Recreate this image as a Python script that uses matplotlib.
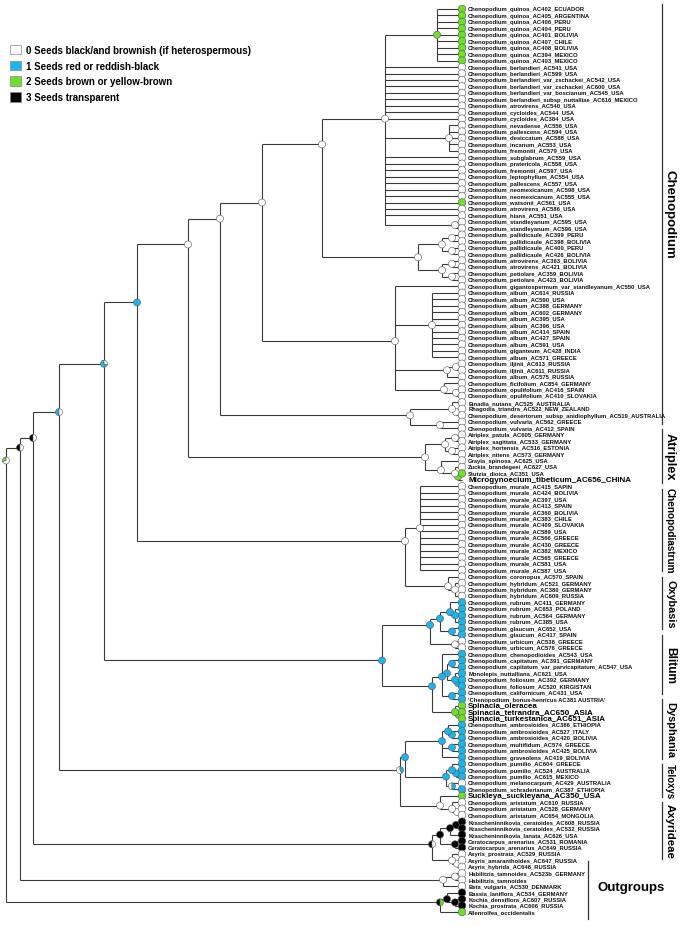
import re
import numpy as np
import matplotlib
matplotlib.use('Agg')
import matplotlib.pyplot as plt
import matplotlib.transforms as mtransforms
from matplotlib.patches import Wedge, Patch

plt.rcParams['font.family'] = ['Liberation Sans', 'DejaVu Sans']

# Tip labels, top to bottom
tip_names = [
    'Chenopodium_quinoa_AC402_ECUADOR', 'Chenopodium_quinoa_AC405_ARGENTINA', 'Chenopodium_quinoa_AC406_PERU',
    'Chenopodium_quinoa_AC404_PERU', 'Chenopodium_quinoa_AC401_BOLIVIA', 'Chenopodium_quinoa_AC407_CHILE',
    'Chenopodium_quinoa_AC408_BOLIVIA', 'Chenopodium_quinoa_AC394_MEXICO', 'Chenopodium_quinoa_AC403_MEXICO',
    'Chenopodium_berlandieri_AC541_USA', 'Chenopodium_berlandieri_AC599_USA',
    'Chenopodium_berlandieri_var_zschackei_AC542_USA', 'Chenopodium_berlandieri_var_zschackei_AC600_USA',
    'Chenopodium_berlandieri_var_boscianum_AC545_USA', 'Chenopodium_berlandieri_subsp_nuttalliae_AC616_MEXICO',
    'Chenopodium_atrovirens_AC540_USA', 'Chenopodium_cycloides_AC544_USA', 'Chenopodium_cycloides_AC384_USA',
    'Chenopodium_nevadense_AC556_USA', 'Chenopodium_pallescens_AC594_USA', 'Chenopodium_desiccatum_AC588_USA',
    'Chenopodium_incanum_AC553_USA', 'Chenopodium_fremontii_AC579_USA', 'Chenopodium_subglabrum_AC559_USA',
    'Chenopodium_pratericola_AC558_USA', 'Chenopodium_fremontii_AC597_USA', 'Chenopodium_leptophyllum_AC554_USA',
    'Chenopodium_pallescens_AC557_USA', 'Chenopodium_neomexicanum_AC598_USA', 'Chenopodium_neomexicanum_AC555_USA',
    'Chenopodium_watsonii_AC561_USA', 'Chenopodium_atrovirens_AC586_USA', 'Chenopodium_hians_AC551_USA',
    'Chenopodium_standleyanum_AC595_USA', 'Chenopodium_standleyanum_AC596_USA',
    'Chenopodium_pallidicaule_AC399_PERU', 'Chenopodium_pallidicaule_AC398_BOLIVIA',
    'Chenopodium_pallidicaule_AC400_PERU', 'Chenopodium_pallidicaule_AC426_BOLIVIA',
    'Chenopodium_atrovirens_AC363_BOLIVIA', 'Chenopodium_atrovirens_AC421_BOLIVIA',
    'Chenopodium_petiolare_AC359_BOLIVIA', 'Chenopodium_petiolare_AC423_BOLIVIA',
    'Chenopodium_gigantospermum_var_standleyanum_AC550_USA', 'Chenopodium_album_AC614_RUSSIA',
    'Chenopodium_album_AC590_USA', 'Chenopodium_album_AC388_GERMANY', 'Chenopodium_album_AC602_GERMANY',
    'Chenopodium_album_AC395_USA', 'Chenopodium_album_AC396_USA', 'Chenopodium_album_AC414_SPAIN',
    'Chenopodium_album_AC427_SPAIN', 'Chenopodium_album_AC591_USA', 'Chenopodium_giganteum_AC428_INDIA',
    'Chenopodium_album_AC571_GREECE', 'Chenopodium_iljinii_AC613_RUSSIA', 'Chenopodium_iljinii_AC611_RUSSIA',
    'Chenopodium_album_AC575_RUSSIA', 'Chenopodium_ficifolium_AC854_GERMANY', 'Chenopodium_opulifolium_AC416_SPAIN',
    'Chenopodium_opulifolium_AC410_SLOVAKIA', 'Einadia_nutans_AC525_AUSTRALIA', 'Rhagodia_triandra_AC522_NEW_ZEALAND',
    'Chenopodium_desertorum_subsp_anidiophyllum_AC519_AUSTRALIA', 'Chenopodium_vulvaria_AC562_GREECE',
    'Chenopodium_vulvaria_AC412_SPAIN', 'Atriplex_patula_AC605_GERMANY', 'Atriplex_sagittata_AC533_GERMANY',
    'Atriplex_hortensis_AC516_ESTONIA', 'Atriplex_nitens_AC573_GERMANY', 'Grayia_spinosa_AC625_USA',
    'Zuckia_brandegeei_AC627_USA', 'Stutzia_dioica_AC351_USA', 'Microgynoecium_tibeticum_AC656_CHINA',
    'Chenopodium_murale_AC415_SAPIN', 'Chenopodium_murale_AC424_BOLIVIA', 'Chenopodium_murale_AC397_USA',
    'Chenopodium_murale_AC413_SPAIN', 'Chenopodium_murale_AC360_BOLIVIA', 'Chenopodium_murale_AC383_CHILE',
    'Chenopodium_murale_AC409_SLOVAKIA', 'Chenopodium_murale_AC589_USA', 'Chenopodium_murale_AC566_GREECE',
    'Chenopodium_murale_AC430_GREECE', 'Chenopodium_murale_AC382_MEXICO', 'Chenopodium_murale_AC565_GREECE',
    'Chenopodium_murale_AC581_USA', 'Chenopodium_murale_AC587_USA', 'Chenopodium_coronopus_AC570_SPAIN',
    'Chenopodium_hybridum_AC521_GERMANY', 'Chenopodium_hybridum_AC380_GERMANY', 'Chenopodium_hybridum_AC609_RUSSIA',
    'Chenopodium_rubrum_AC411_GERMANY', 'Chenopodium_rubrum_AC653_POLAND', 'Chenopodium_rubrum_AC564_GERMANY',
    'Chenopodium_rubrum_AC385_USA', 'Chenopodium_glaucum_AC652_USA', 'Chenopodium_glaucum_AC417_SPAIN',
    'Chenopodium_urbicum_AC536_GREECE', 'Chenopodium_urbicum_AC576_GREECE', 'Chenopodium_chenopodioides_AC543_USA',
    'Chenopodium_capitatum_AC391_GERMANY', 'Chenopodium_capitatum_var_parvicapitatum_AC547_USA',
    'Monolepis_nuttalliana_AC621_USA', 'Chenopodium_foliosum_AC392_GERMANY', 'Chenopodium_foliosum_AC520_KIRGISTAN',
    'Chenopodium_californicum_AC431_USA', "'Chenopodium_bonus-henricus AC381 AUSTRIA'", 'Spinacia_oleracea',
    'Spinacia_tetrandra_AC650_ASIA', 'Spinacia_turkestanica_AC651_ASIA', 'Chenopodium_ambrosioides_AC386_ETHIOPIA',
    'Chenopodium_ambrosioides_AC527_ITALY', 'Chenopodium_ambrosioides_AC420_BOLIVIA',
    'Chenopodium_multifidum_AC574_GREECE', 'Chenopodium_ambrosioides_AC425_BOLIVIA',
    'Chenopodium_graveolens_AC419_BOLIVIA', 'Chenopodium_pumilio_AC604_GREECE', 'Chenopodium_pumilio_AC524_AUSTRALIA',
    'Chenopodium_pumilio_AC615_MEXICO', 'Chenopodium_melanocarpum_AC429_AUSTRALIA',
    'Chenopodium_schraderianum_AC387_ETHIOPIA', 'Suckleya_suckleyana_AC350_USA', 'Chenopodium_aristatum_AC610_RUSSIA',
    'Chenopodium_aristatum_AC528_GERMANY', 'Chenopodium_aristatum_AC654_MONGOLIA',
    'Krascheninnikovia_ceratoides_AC608_RUSSIA', 'Krascheninnikovia_ceratoides_AC532_RUSSIA',
    'Krascheninnikovia_lanata_AC626_USA', 'Ceratocarpus_arenarius_AC531_ROMANIA', 'Ceratocarpus_arenarius_AC649_RUSSIA',
    'Axyris_prostrata_AC529_RUSSIA', 'Axyris_amaranthoides_AC647_RUSSIA', 'Axyris_hybrida_AC648_RUSSIA',
    'Habilitzia_tamnoides_AC523b_GERMANY', 'Habilitzia_tamnoides', 'Beta_vulgaris_AC530_DENMARK',
    'Bassia_laniflora_AC534_GERMANY', 'Kochia_densiflora_AC607_RUSSIA', 'Kochia_prostrata_AC606_RUSSIA',
    'Allenrolfea_occidentalis',
]

# seed colour state of each tip (0 white, 1 blue, 2 green, 3 black, - no symbol)
tip_states = ('222222222' '000000000000000000000' '2' '00000000000000000000000000000000000000000'
              '2-' '000000000000000000' '111111' '00' '11111111' '222' '111111111' '0' '1' '2' '000'
              '33333' '000000' '333' '2')

big_tips = ['Microgynoecium_tibeticum_AC656_CHINA', 'Spinacia_oleracea', 'Spinacia_tetrandra_AC650_ASIA',
            'Spinacia_turkestanica_AC651_ASIA', 'Suckleya_suckleyana_AC350_USA']

state_colors = {'w': '#ffffff', 'b': '#1cb4ea', 'g': '#6ee02a', 'k': '#000000'}
tip_colors = {'0': 'w', '1': 'b', '2': 'g', '3': 'k'}

legend_labels = ['0 Seeds black/and brownish (if heterospermous)', '1 Seeds red or reddish-black',
                 '2 Seeds brown or yellow-brown', '3 Seeds transparent']

# clade bars: name, top and bottom in tip rows, label size
clade_names = ['Chenopodium', 'Atriplex', 'Chenopodiastrum', 'Oxybasis', 'Blitum', 'Dysphania', 'Teloxys',
               'Axyrideae']
clade_top = [-0.8, 65.1, 74.4, 88.1, 97.1, 107.0, 117.1, 122.9]
clade_bottom = [64.3, 73.5, 87.1, 96.1, 106.2, 116.3, 122.2, 131.8]
clade_size = [9.5, 9.2, 7.2, 7.8, 8.6, 7.9, 6.9, 8.2]
outgroup_top, outgroup_bottom = 132.1, 141.1

TIP_AGE = 462


def clade(age, pie, *kids):
    return {'x': age, 'pie': pie,
            'kids': [k if isinstance(k, dict) else {'tip': k - 1} for k in kids]}


# Tree: clade(node age, ancestral-state pie, children...) ; integers are tip numbers
chen_a = clade(385, 'w', clade(437, 'g', 1, 2, 3, 4, 5, 6, 7, 8, 9),
               10, 11, 12, 13, 14, 15, 16, 17, 18,
               clade(449, 'w', 19, 20, 21, 22, 23),
               24, 25, 26, 27, 28, 29, 30, 31, 32, 33, clade(455, 'w', 34, 35))
chen_pal = clade(418, 'w', clade(442, 'w', clade(452, 'w', 36, 37), clade(452, 'w', 38, 39)),
                 clade(442, 'w', clade(452, 'w', 40, 41), clade(452, 'w', 42, 43)))
chen_alb = clade(395, 'w', 44, clade(432, 'w', 45, 46, 47, 48, 49, 50, 51, 52, 53, 54, 55),
                 clade(447, 'w', clade(456, 'w', 56, 57), 58),
                 clade(444, 'w', 59, clade(456, 'w', 60, 61)))
chen_all = clade(220, 'w', clade(262, 'w', clade(322, 'w', chen_a, chen_pal), chen_alb),
                 clade(410, 'w', clade(452, 'w', 62, clade(456, 'w', 63, 64)), clade(440, 'w', 65, 66)))
atriplex = clade(425, 'w', clade(445, 'w', clade(455, 'w', 67, 68), clade(452, 'w', 69, 70)),
                 clade(441, 'w', 71, clade(455, 'w', 72, clade(458, 'g', 73, 74))))
chenopodiastrum = clade(405, 'w', clade(420, 'w', 75, 76, 77, 78, 79, 80, 81, 82, 83, 84, 85, 86, 87, 88),
                        clade(448, 'w', 89, clade(455, 'w', 90, 91, 92)))
oxybasis = clade(430, 'b', clade(440, 'b', clade(450, 'b', 93, clade(455, 'b', 94, 95, 96)),
                                  clade(452, 'b', 97, 98)),
                 clade(455, 'w', 99, 100))
blitum = clade(432, 'b', clade(442, 'b', 101, clade(447, 'b', clade(452, 'b', 102, 103),
                                                     clade(455, 'b', 104, clade(458, 'b', 105, 106))),
                               clade(452, 'b', 107, 108)),
               clade(455, 'g', 109, clade(459, 'g', 110, 111)))
dysphania = clade(400, 'w60b40',
                  clade(405, 'b', clade(442, 'b', clade(448, 'b', 112, clade(452, 'b', 113, 114)),
                                        clade(452, 'b', 115, 116), 117),
                        clade(446, 'b', clade(452, 'b', 118, clade(456, 'b', 119, 120)),
                              clade(452, 'w50b50', 121, 122))),
                  clade(440, 'w', 123, clade(452, 'w', 124, clade(457, 'w', 125, 126))))
axyrideae = clade(432, 'k50w50', clade(440, 'k', clade(450, 'k', clade(456, 'k', 127, 128), 129),
                                        clade(455, 'k', 130, 131)),
                  clade(452, 'w', 132, clade(457, 'w', 133, 134)))
tree = clade(6, 'g30w70',
             clade(20, 'k50w50',
                   clade(33, 'k50w50',
                         clade(59, 'b50w50',
                               clade(104, 'b70w30',
                                     clade(137, 'b', clade(188, 'w', chen_all, atriplex), chenopodiastrum),
                                     clade(382, 'b', oxybasis, blitum)),
                               dysphania),
                         axyrideae),
                   clade(443, 'w', clade(455, 'w', 135, 136), 137)),
             clade(440, 'k50g50', clade(447, 'k', 138, clade(455, 'k', 139, 140)), 141))


def layout(node):
    # node height = mean row of its descendant tips
    if 'tip' in node:
        node['y'] = node['tip']
        node['x'] = TIP_AGE
        return [node['tip']]
    rows = []
    for k in node['kids']:
        rows += layout(k)
    node['y'] = float(np.mean(rows))
    return rows


def draw_pie(ax, x, y, pie, r):
    parts = re.findall(r'([wbgk])(\d*)', pie)
    fracs = [float(p) / 100 if p else 1.0 for _, p in parts]
    tr = mtransforms.Affine2D().scale(r) + mtransforms.ScaledTranslation(x, y, ax.transData)
    start = 90.0
    for (c, _), f in zip(parts, fracs):
        ax.add_patch(Wedge((0, 0), 1, start, start + 360 * f, facecolor=state_colors[c],
                           edgecolor='#555555', lw=0.4, transform=tr, zorder=4))
        start += 360 * f


def draw(ax, node):
    if 'tip' in node:
        return
    ys = [k['y'] for k in node['kids']]
    ax.plot([node['x'], node['x']], [min(ys), max(ys)], color='#3a3a3a', lw=0.8, zorder=1,
            solid_capstyle='butt')
    for k in node['kids']:
        ax.plot([node['x'], k['x']], [k['y'], k['y']], color='#3a3a3a', lw=0.8, zorder=1,
                solid_capstyle='butt')
        draw(ax, k)
    draw_pie(ax, node['x'], node['y'], node['pie'], 3.5)


layout(tree)

fig = plt.figure(figsize=(6.88, 9.28), dpi=100)
ax = fig.add_axes([0, 0, 1, 1])
ax.set_xlim(0, 688)
ax.set_ylim((928 - 10) / 6.45, -10 / 6.45)
ax.axis('off')

draw(ax, tree)

for i, name in enumerate(tip_names):
    st = tip_states[i]
    if st != '-':
        draw_pie(ax, TIP_AGE, i, tip_colors[st], 3.8)
    if name in big_tips:
        ax.annotate(name, (TIP_AGE, i), xytext=(4.5, 0), textcoords='offset points', fontsize=5.8,
                    fontweight='bold', va='center', ha='left')
    else:
        ax.annotate(name, (TIP_AGE, i), xytext=(4.5, 0), textcoords='offset points', fontsize=4.25,
                    fontweight='bold', va='center', ha='left', color='#111111')

# clade bars
for name, a, b, fs in zip(clade_names, clade_top, clade_bottom, clade_size):
    ax.plot([662, 662], [a, b], color='#333333', lw=0.9)
    ax.text(670, 0.5 * (a + b), name, rotation=270, fontsize=fs, fontweight='bold',
            va='center', ha='center', rotation_mode='anchor')
ax.plot([588, 588], [outgroup_top, outgroup_bottom], color='#333333', lw=0.9)
ax.text(598, 0.5 * (outgroup_top + outgroup_bottom) - 0.5, 'Outgroups', fontsize=9.5,
        fontweight='bold', va='center', ha='left')

handles = [Patch(facecolor=state_colors[c], edgecolor='#888888', lw=0.5) for c in 'wbgk']
fig.legend(handles, legend_labels, loc='upper left', bbox_to_anchor=(0.005, 0.958), frameon=False,
           prop={'size': 7.0, 'weight': 'bold'}, handlelength=1.1, handleheight=1.1,
           handletextpad=0.5, labelspacing=0.6, borderpad=0.2)

fig.savefig('out.png', dpi=100)
